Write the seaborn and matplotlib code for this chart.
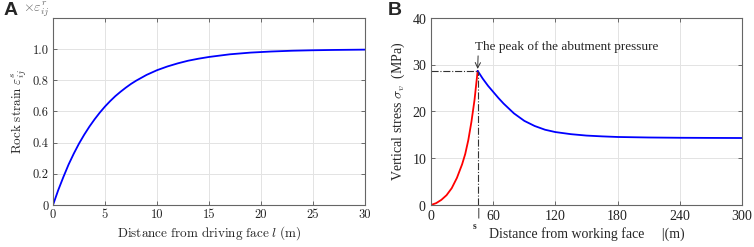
import seaborn as sns
import pandas as pd
import numpy as np
import matplotlib.pyplot as plt

# panel A: rock strain vs distance from driving face
dist_a = [0, 0.5, 1, 1.5, 2, 2.5, 3, 3.5, 4, 4.5, 5, 5.5, 6, 6.5, 7, 7.5, 8, 9, 10, 11, 12,
          13, 14, 15, 17, 19, 21, 23, 25, 27, 30]
strain = [0, 0.095, 0.18, 0.26, 0.33, 0.394, 0.451, 0.503, 0.55, 0.593, 0.632, 0.667,
          0.699, 0.727, 0.753, 0.777, 0.798, 0.835, 0.865, 0.889, 0.909, 0.926, 0.939,
          0.95, 0.967, 0.978, 0.985, 0.99, 0.993, 0.995, 0.997]

# panel B: vertical stress vs distance from working face
dist_red = [0, 5, 10, 15, 20, 25, 30, 33, 36, 39, 42, 45]
stress_red = [0, 0.4, 1.1, 2.1, 3.6, 5.8, 8.7, 10.9, 13.9, 17.8, 22.5, 28.7]
dist_blue = [45, 50, 55, 60, 65, 70, 80, 90, 100, 110, 120, 135, 150, 165, 180, 210, 240,
             270, 300]
stress_blue = [28.7, 27.0, 25.5, 24.2, 22.9, 21.7, 19.6, 18.0, 16.9, 16.1, 15.6, 15.15,
               14.85, 14.68, 14.55, 14.44, 14.38, 14.35, 14.33]
peak_x = 45
peak_y = 28.7

sns.set_theme(style="whitegrid")
plt.rcParams['mathtext.fontset'] = 'cm'
plt.rcParams['axes.formatter.use_mathtext'] = True

fig = plt.figure(figsize=(7.54, 2.47), dpi=100)
axA = fig.add_axes([53/754, 42/247, 312/754, 187/247])
axB = fig.add_axes([431/754, 42/247, 311/754, 187/247])

dfa = pd.DataFrame({"l": dist_a, "strain": strain})
sns.lineplot(data=dfa, x="l", y="strain", ax=axA, color="#0000ff", linewidth=1.3)
axA.set_xlim(0, 30)
axA.set_ylim(0, 1.2)
axA.set_xticks([0, 5, 10, 15, 20, 25, 30])
axA.set_yticks([0, 0.2, 0.4, 0.6, 0.8, 1.0])
axA.set_xticklabels(["0", "5", "10", "15", "20", "25", "30"])
axA.set_yticklabels(["0", "0.2", "0.4", "0.6", "0.8", "1.0"])
for lab in axA.get_xticklabels() + axA.get_yticklabels():
    lab.set_fontfamily("cmr10")
    lab.set_fontsize(9)
axA.set_xlabel(r"$\mathrm{Distance\ from\ driving\ face}\ l\ \mathrm{(m)}$", fontsize=9.5, labelpad=2)
axA.set_ylabel(r"$\mathrm{Rock\ strain}\ \varepsilon_{ij}^{s}$", fontsize=9.5, labelpad=3)
axA.text(-0.01, 1.045, r"$\times\varepsilon_{ij}^{r}$", transform=axA.transAxes,
         ha="right", va="center", fontsize=10, color="#666666")

dfr = pd.DataFrame({"x": dist_red, "y": stress_red})
dfb = pd.DataFrame({"x": dist_blue, "y": stress_blue})
sns.lineplot(data=dfr, x="x", y="y", ax=axB, color="#ff0000", linewidth=1.3)
sns.lineplot(data=dfb, x="x", y="y", ax=axB, color="#0000ff", linewidth=1.3)
axB.plot([0, peak_x], [peak_y, peak_y], color="#333333", linestyle="-.", linewidth=0.8)
axB.plot([peak_x, peak_x], [0, peak_y], color="#333333", linestyle="-.", linewidth=0.8)
axB.set_xlim(0, 300)
axB.set_ylim(0, 40)
axB.set_xticks([0, 60, 120, 180, 240, 300])
axB.set_yticks([0, 10, 20, 30, 40])
for lab in axB.get_xticklabels() + axB.get_yticklabels():
    lab.set_fontfamily("Liberation Serif")
    lab.set_fontsize(10)
axB.set_xlabel("Distance from working face     |(m)", fontfamily="Liberation Serif",
               fontsize=10, labelpad=3)
axB.set_ylabel(r"Vertical stress $\sigma_v$  (MPa)", fontfamily="Liberation Serif",
               fontsize=10, labelpad=3)
axB.annotate("The peak of the abutment pressure", xy=(peak_x, peak_y + 0.4),
             xytext=(42, 32.6), fontfamily="Liberation Serif", fontsize=9.5,
             ha="left", va="bottom",
             arrowprops=dict(arrowstyle="->", color="#333333", lw=0.7,
                             shrinkA=0, shrinkB=0, relpos=(0.02, 0)))
axB.text(peak_x + 0.5, -0.6, "|", ha="center", va="top", clip_on=False,
         fontfamily="DejaVu Sans", fontsize=8, color="#222222", zorder=5)
axB.text(peak_x - 1, -3.6, "s", ha="right", va="top", clip_on=False,
         fontfamily="Liberation Serif", fontsize=7, fontweight="bold", color="#333333")

for ax in (axA, axB):
    ax.grid(True, color="#e3e3e3", linewidth=0.7)
    ax.set_facecolor("white")
    for s in ax.spines.values():
        s.set_color("#666666")
        s.set_linewidth(0.8)
    ax.tick_params(direction="in", length=3, width=0.6, color="#555555",
                   top=True, right=True, bottom=True, left=True, pad=3,
                   labelcolor="#222222")

fig.text(4/754, 1 - 2/247, "A", fontsize=14, fontweight="bold", ha="left", va="top",
         fontfamily="Liberation Sans")
fig.text(388/754, 1 - 2/247, "B", fontsize=14, fontweight="bold", ha="left", va="top",
         fontfamily="Liberation Sans")

fig.savefig("out.png", dpi=100)
